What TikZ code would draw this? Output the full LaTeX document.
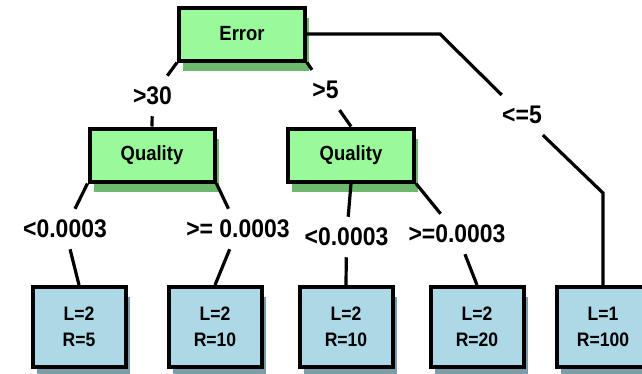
\documentclass[tikz,border=0pt]{standalone}
\usepackage{fontspec}
\setmainfont{Liberation Sans}[FakeStretch=0.9]
\usetikzlibrary{shadows}

\definecolor{gfill}{HTML}{98FA98}
\definecolor{gshadow}{HTML}{6DB96D}
\definecolor{bfill}{HTML}{ADD8E6}
\definecolor{bshadow}{HTML}{7C9CAA}

\begin{document}
\begin{tikzpicture}[x=1pt,y=-1pt,
  box/.style={draw=black, line width=4pt, inner sep=0pt},
  splitbox/.style={box, fill=gfill,
    drop shadow={shadow xshift=4pt, shadow yshift=-10pt, fill=gshadow, opacity=1},
    minimum width=126pt, minimum height=53pt,
    font=\bfseries\fontsize{20.5}{24}\selectfont},
  leafbox/.style={box, fill=bfill,
    drop shadow={shadow xshift=4pt, shadow yshift=-10pt, fill=bshadow, opacity=1},
    minimum width=93pt, minimum height=80pt, align=center,
    font=\bfseries\fontsize{19.5}{26}\selectfont},
  cond/.style={font=\bfseries\fontsize{25.5}{28}\selectfont,
    inner xsep=4pt, inner ysep=11pt},
  link/.style={line width=3.2pt, line join=miter}]

\useasboundingbox (0,0) rectangle (642,373);
\clip (0,0) rectangle (642,373);

% decision nodes
\node[splitbox] (err) at (242,34) {Error};
\node[splitbox, minimum width=125pt] (q1) at (152,155) {Quality};
\node[splitbox] (q2) at (351,155) {Quality};

% leaves
\node[leafbox] (leaf1) at (79,327)  {L=2\\R=5};
\node[leafbox] (leaf2) at (215,327) {L=2\\R=10};
\node[leafbox] (leaf3) at (346,327) {L=2\\R=10};
\node[leafbox] (leaf4) at (477,327) {L=2\\R=20};
\node[leafbox] (leaf5) at (603,327) {L=1\\R=100};

% branch conditions
\node[cond] (c30)  at (152.5,96) {>30};
\node[cond] (c5)   at (325.5,90) {>5};
\node[cond] (cle5) at (522,115)  {<=5};
\node[cond] (ca)   at (65,229)   {<0.0003};
\node[cond] (cb)   at (238,229)  {>= 0.0003};
\node[cond] (cc)   at (346.5,237) {<0.0003};
\node[cond] (cd)   at (457,234)  {>=0.0003};

% bends of the right-hand branch
\coordinate (r1) at (440,34);
\coordinate (r2) at (603,193);

% connectors
\draw[link] (err.south west) -- (c30) -- (q1.north);
\draw[link] (err.south east) -- (c5) -- (q2.north);
\draw[link] (err.east) -- (r1) -- (cle5);
\draw[link] (cle5) -- (r2) -- (leaf5.north);
\draw[link] (q1.south west) -- (ca) -- (leaf1.north);
\draw[link] (q1.south east) -- (cb) -- (leaf2.north);
\draw[link] (q2.south) -- (cc) -- (leaf3.north);
\draw[link] (q2.south east) -- (cd) -- (leaf4.north);
\end{tikzpicture}
\end{document}
